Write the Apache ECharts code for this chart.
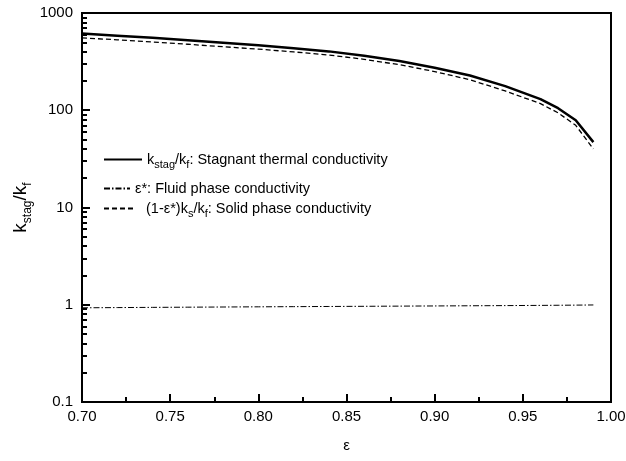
<!DOCTYPE html>
<html>
<head>
<meta charset="utf-8">
<script src="https://cdn.jsdelivr.net/npm/echarts@6/dist/echarts.min.js"></script>
<style>
html, body { margin: 0; padding: 0; background: #fff; }
#chart { width: 626px; height: 461px; }
</style>
</head>
<body>
<div id="chart"></div>
<script>
// porosity values (x)
var eps = [0.70, 0.72, 0.74, 0.76, 0.78, 0.80, 0.82, 0.84, 0.86, 0.88, 0.90, 0.92, 0.94, 0.96, 0.97, 0.98, 0.99];
// k_stag/k_f
var stagnant = [615, 585, 555, 525, 495, 465, 435, 403, 364, 321, 274, 228, 177, 130, 105, 79, 47];
// eps*
var fluid = [0.93, 0.935, 0.94, 0.944, 0.948, 0.952, 0.956, 0.96, 0.964, 0.968, 0.972, 0.976, 0.98, 0.985, 0.988, 0.991, 0.995];
// (1-eps*)ks/kf
var solid = [555, 530, 503, 477, 450, 425, 398, 370, 334, 294, 250, 206, 158, 117, 94, 70, 40];

var yMinorTicks = [0.2, 0.3, 0.4, 0.5, 0.6, 0.7, 0.8, 0.9, 2, 3, 4, 5, 6, 7, 8, 9,
	20, 30, 40, 50, 60, 70, 80, 90, 200, 300, 400, 500, 600, 700, 800, 900];

function pairs(ys) {
	return eps.map(function (x, i) { return [x, ys[i]]; });
}

var font = 'Liberation Sans, Arial, sans-serif';
var legendRich = {
	m: { fontSize: 14.5, lineHeight: 22, fontFamily: font, color: '#000' },
	s: { fontSize: 11, lineHeight: 11, verticalAlign: 'bottom', fontFamily: font, color: '#000' }
};
var legendText = {
	stag: '{m|k}{s|stag}{m|/k}{s|f}{m|: Stagnant thermal conductivity}',
	fluid: '{m|ε*: Fluid phase conductivity}',
	solid: '{m|(1-ε*)k}{s|s}{m|/k}{s|f}{m|: Solid phase conductivity}'
};

function makeLegend(name, top, w, pad) {
	return {
		data: [name],
		left: 103,
		top: top,
		orient: 'vertical',
		itemWidth: w,
		itemHeight: 10,
		padding: 0,
		selectedMode: false,
		itemStyle: { opacity: 0 },
		formatter: function (n) { return legendText[n]; },
		textStyle: { rich: legendRich, padding: [0, 0, 0, pad] }
	};
}

var option = {
	animation: false,
	backgroundColor: '#fff',
	grid: {
		left: 82, right: 15, top: 13, bottom: 59,
		outerBoundsMode: 'none',
		show: true, borderColor: '#000', borderWidth: 2
	},
	legend: [
		makeLegend('stag', 152, 38, 0),
		makeLegend('fluid', 181, 26, 0),
		makeLegend('solid', 201, 30, 7)
	],
	xAxis: {
		type: 'value',
		min: 0.70,
		max: 1.00,
		interval: 0.05,
		name: 'ε',
		nameLocation: 'middle',
		nameGap: 36,
		nameTextStyle: { fontSize: 15, fontFamily: font, color: '#000' },
		axisLine: { lineStyle: { color: '#000', width: 2 } },
		axisTick: { inside: true, length: 8, lineStyle: { color: '#000', width: 2 } },
		minorTick: { show: true, splitNumber: 2, length: 5, lineStyle: { color: '#000', width: 2 } },
		splitLine: { show: false },
		axisLabel: {
			fontSize: 15, fontFamily: font, color: '#000', margin: 7,
			formatter: function (v) { return v.toFixed(2); }
		}
	},
	yAxis: [
		{
			type: 'log',
			min: 0.1,
			max: 1000,
			logBase: 10,
			name: '{m|k}{s|stag}{m|/k}{s|f}',
			nameLocation: 'middle',
			nameGap: 48,
			nameMoveOverlap: false,
			nameRotate: 90,
			nameTextStyle: {
				rich: {
					m: { fontSize: 19, lineHeight: 26, fontFamily: font, color: '#000' },
					s: { fontSize: 12, lineHeight: 12, verticalAlign: 'bottom', fontFamily: font, color: '#000' }
				}
			},
			axisLine: { lineStyle: { color: '#000', width: 2 } },
			axisTick: { inside: true, length: 8, lineStyle: { color: '#000', width: 2 } },
			splitLine: { show: false },
			axisLabel: {
				fontSize: 15, fontFamily: font, color: '#000', margin: 9,
				formatter: function (v) { return String(v); }
			}
		},
		{
			type: 'log',
			min: 0.1,
			max: 1000,
			position: 'left',
			axisLine: { show: false },
			axisLabel: { show: false },
			splitLine: { show: false },
			axisTick: {
				inside: true, length: 5, customValues: yMinorTicks,
				lineStyle: { color: '#000', width: 2 }
			}
		}
	],
	series: [
		{
			name: 'stag', type: 'line', data: pairs(stagnant), symbol: 'none',
			lineStyle: { color: '#000', width: 2.5, type: 'solid' }, itemStyle: { color: '#000' }
		},
		{
			name: 'fluid', type: 'line', data: pairs(fluid), symbol: 'none',
			lineStyle: { color: '#000', width: 1, type: [6, 2, 1.5, 2] }, itemStyle: { color: '#000' }
		},
		{
			name: 'solid', type: 'line', data: pairs(solid), symbol: 'none',
			lineStyle: { color: '#000', width: 1.3, type: [5, 3] }, itemStyle: { color: '#000' }
		}
	]
};

var myChart = echarts.init(document.getElementById('chart'));
myChart.setOption(option);
</script>
</body>
</html>
